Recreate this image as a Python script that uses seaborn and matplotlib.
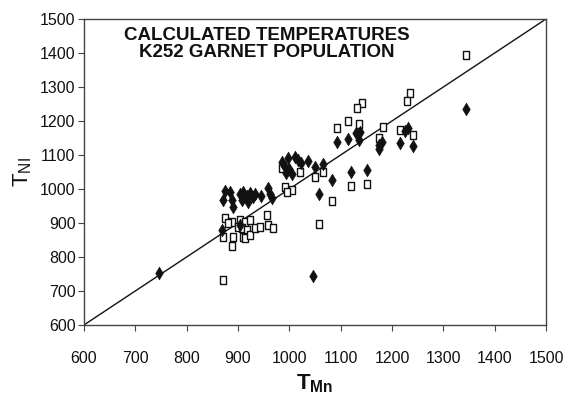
import matplotlib
matplotlib.use("Agg")
import matplotlib.pyplot as plt
import seaborn as sns

# Garnet temperatures: filled diamonds and open squares
mn_diamond = [747, 1047, 1345, 868, 904,
              875, 884, 871, 888, 890, 904, 910, 917, 923, 930, 933, 944, 959, 962, 967, 907, 920,
              985, 998, 1011, 1016, 1022, 991, 1000, 1005, 993, 1037, 1050, 1058,
              1066, 1083, 1120, 1151,
              1092, 1114, 1136, 1138, 1130, 1180, 1175, 1175, 1216, 1231, 1226, 1241]
ni_diamond = [752, 744, 1234, 879, 894,
              995, 992, 968, 968, 948, 985, 992, 979, 989, 977, 985, 979, 1002, 985, 973, 968, 963,
              1080, 1090, 1093, 1085, 1076, 1066, 1058, 1044, 1048, 1083, 1066, 984,
              1074, 1027, 1050, 1056,
              1139, 1147, 1144, 1169, 1165, 1139, 1117, 1128, 1136, 1179, 1170, 1127]

mn_square = [870, 1345,
             875, 888, 881, 871, 891, 888, 904, 914, 923, 901, 907, 917, 910, 914, 923, 933, 943, 956, 959, 969,
             985, 1021, 1050, 991, 1005, 995,
             1066, 1058, 1083, 1120, 1151,
             1235, 1229, 1141, 1132, 1114, 1092, 1136, 1182, 1216, 1240, 1174]
ni_square = [732, 1394,
             914, 904, 899, 860, 860, 832, 909, 904, 909, 889, 884, 879, 860, 855, 865, 884, 889, 924, 894, 884,
             1061, 1051, 1034, 1007, 997, 992,
             1051, 896, 965, 1009, 1015,
             1283, 1260, 1252, 1239, 1201, 1178, 1190, 1183, 1174, 1159, 1149]

ticks = [600, 700, 800, 900, 1000, 1100, 1200, 1300, 1400, 1500]

sns.set_theme(style="white")
plt.rcParams['font.family'] = ['Liberation Sans', 'DejaVu Sans']
plt.rcParams['mathtext.fontset'] = 'custom'
plt.rcParams['mathtext.rm'] = 'Liberation Sans'
plt.rcParams['mathtext.bf'] = 'Liberation Sans:bold'

fig = plt.figure(figsize=(5.67, 4.0), dpi=100)
ax = fig.add_axes([0.148, 0.1875, 0.815, 0.765])

# 1:1 line
ax.plot([600, 1500], [600, 1500], color='#111111', lw=1.0, zorder=1)

rect = [(-0.62, -1), (0.62, -1), (0.62, 1), (-0.62, 1), (-0.62, -1)]
sns.scatterplot(x=mn_square, y=ni_square, marker=rect, s=40,
                facecolor='white', edgecolor='#111111', linewidth=1.0, ax=ax, zorder=3)
sns.scatterplot(x=mn_diamond, y=ni_diamond, marker='d', s=42,
                color='#111111', edgecolor='#111111', linewidth=0.4, ax=ax, zorder=4)

ax.set_xlim(600, 1500)
ax.set_ylim(600, 1500)
ax.set_xticks(ticks)
ax.set_yticks(ticks)
ax.tick_params(axis='both', direction='out', length=4, width=0.8, color='#444444',
               labelsize=11.5, bottom=True, left=True, labelcolor='#111111')
ax.tick_params(axis='x', pad=15)
ax.tick_params(axis='y', pad=2)
for sp in ax.spines.values():
    sp.set_color('#444444')
    sp.set_linewidth(1.0)

ax.set_xlabel(r'$\mathbf{T_{Mn}}$', fontsize=16, labelpad=4, color='#111111')
ax.set_ylabel(r'$\mathrm{T_{NI}}$', fontsize=16, labelpad=4, color='#111111')

ax.text(0.395, 0.975, 'CALCULATED TEMPERATURES\nK252 GARNET POPULATION',
        transform=ax.transAxes, ha='center', va='top', fontsize=13.5,
        fontweight='bold', color='#111111', linespacing=1.0)

fig.savefig('out.png', dpi=100)
